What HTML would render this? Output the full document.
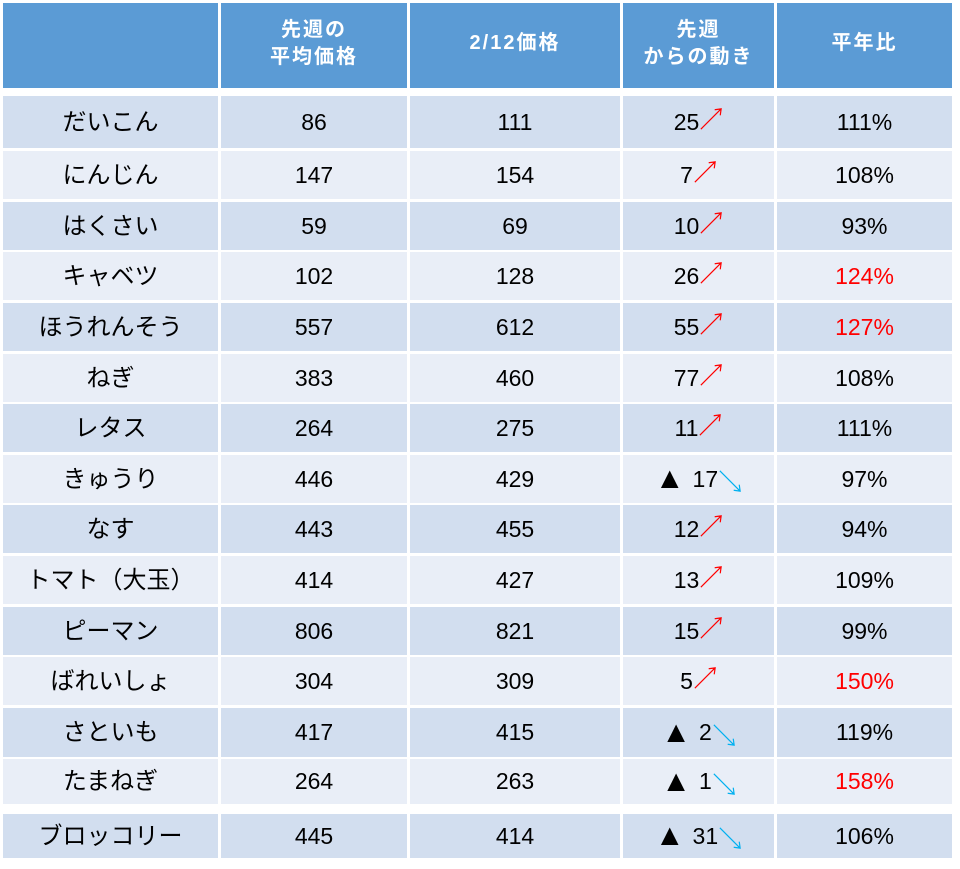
<!DOCTYPE html>
<html><head><meta charset="utf-8">
<style>
*{margin:0;padding:0;box-sizing:border-box}
body{width:960px;height:869px;background:#fff;position:relative;overflow:hidden;font-family:"Liberation Sans","Noto Sans CJK JP",sans-serif}
.r{position:absolute;left:0;width:960px}
.c{position:absolute;top:0;height:100%;display:flex;align-items:center;justify-content:center;font-size:23px;color:#000;white-space:nowrap}
.c1{left:3px;width:215px;font-size:24px;padding-bottom:6px}
.c2{left:221px;width:186px}
.c3{left:410px;width:210px}
.c4{left:623px;width:151px}
.c5{left:777px;width:175px}
.h .c{background:#5B9BD5;color:#fff;font-weight:bold;font-size:20px;line-height:27px;text-align:center;letter-spacing:2px;padding-bottom:4px}
.d .c{background:#D2DEEF}
.l .c{background:#E9EEF7}
.red{color:#f00}
svg{display:inline-block;vertical-align:middle;margin-top:-6px}
.dn{margin-top:4px}
.tri{font-size:30px;margin-right:8px}
</style></head><body>
<div class="r h" style="top:3px;height:85px">
<div class="c c1"></div>
<div class="c c2">先週の<br>平均価格</div>
<div class="c c3">2/12価格</div>
<div class="c c4">先週<br>からの動き</div>
<div class="c c5">平年比</div>
</div>

<div class="r d" style="top:96px;height:52px"><div class="c c1">だいこん</div><div class="c c2">86</div><div class="c c3">111</div><div class="c c4">25<svg width="24" height="24" viewBox="0 0 26 26"><path d="M2 24L24 2M17 3L24 2L23 9" stroke="#f00" stroke-width="1.3" fill="none"/></svg></div><div class="c c5">111%</div></div>
<div class="r l" style="top:151px;height:48px"><div class="c c1">にんじん</div><div class="c c2">147</div><div class="c c3">154</div><div class="c c4">7<svg width="24" height="24" viewBox="0 0 26 26"><path d="M2 24L24 2M17 3L24 2L23 9" stroke="#f00" stroke-width="1.3" fill="none"/></svg></div><div class="c c5">108%</div></div>
<div class="r d" style="top:202px;height:48px"><div class="c c1">はくさい</div><div class="c c2">59</div><div class="c c3">69</div><div class="c c4">10<svg width="24" height="24" viewBox="0 0 26 26"><path d="M2 24L24 2M17 3L24 2L23 9" stroke="#f00" stroke-width="1.3" fill="none"/></svg></div><div class="c c5">93%</div></div>
<div class="r l" style="top:252px;height:48px"><div class="c c1">キャベツ</div><div class="c c2">102</div><div class="c c3">128</div><div class="c c4">26<svg width="24" height="24" viewBox="0 0 26 26"><path d="M2 24L24 2M17 3L24 2L23 9" stroke="#f00" stroke-width="1.3" fill="none"/></svg></div><div class="c c5 red">124%</div></div>
<div class="r d" style="top:303px;height:48px"><div class="c c1">ほうれんそう</div><div class="c c2">557</div><div class="c c3">612</div><div class="c c4">55<svg width="24" height="24" viewBox="0 0 26 26"><path d="M2 24L24 2M17 3L24 2L23 9" stroke="#f00" stroke-width="1.3" fill="none"/></svg></div><div class="c c5 red">127%</div></div>
<div class="r l" style="top:354px;height:48px"><div class="c c1">ねぎ</div><div class="c c2">383</div><div class="c c3">460</div><div class="c c4">77<svg width="24" height="24" viewBox="0 0 26 26"><path d="M2 24L24 2M17 3L24 2L23 9" stroke="#f00" stroke-width="1.3" fill="none"/></svg></div><div class="c c5">108%</div></div>
<div class="r d" style="top:404px;height:48px"><div class="c c1">レタス</div><div class="c c2">264</div><div class="c c3">275</div><div class="c c4">11<svg width="24" height="24" viewBox="0 0 26 26"><path d="M2 24L24 2M17 3L24 2L23 9" stroke="#f00" stroke-width="1.3" fill="none"/></svg></div><div class="c c5">111%</div></div>
<div class="r l" style="top:455px;height:48px"><div class="c c1">きゅうり</div><div class="c c2">446</div><div class="c c3">429</div><div class="c c4"><span class="tri">▲</span>17<svg class="dn" width="24" height="24" viewBox="0 0 26 26"><path d="M2 2L24 24M17 23L24 24L23 17" stroke="#00B0F0" stroke-width="1.3" fill="none"/></svg></div><div class="c c5">97%</div></div>
<div class="r d" style="top:505px;height:48px"><div class="c c1">なす</div><div class="c c2">443</div><div class="c c3">455</div><div class="c c4">12<svg width="24" height="24" viewBox="0 0 26 26"><path d="M2 24L24 2M17 3L24 2L23 9" stroke="#f00" stroke-width="1.3" fill="none"/></svg></div><div class="c c5">94%</div></div>
<div class="r l" style="top:556px;height:48px"><div class="c c1">トマト（大玉）</div><div class="c c2">414</div><div class="c c3">427</div><div class="c c4">13<svg width="24" height="24" viewBox="0 0 26 26"><path d="M2 24L24 2M17 3L24 2L23 9" stroke="#f00" stroke-width="1.3" fill="none"/></svg></div><div class="c c5">109%</div></div>
<div class="r d" style="top:607px;height:48px"><div class="c c1">ピーマン</div><div class="c c2">806</div><div class="c c3">821</div><div class="c c4">15<svg width="24" height="24" viewBox="0 0 26 26"><path d="M2 24L24 2M17 3L24 2L23 9" stroke="#f00" stroke-width="1.3" fill="none"/></svg></div><div class="c c5">99%</div></div>
<div class="r l" style="top:657px;height:48px"><div class="c c1">ばれいしょ</div><div class="c c2">304</div><div class="c c3">309</div><div class="c c4">5<svg width="24" height="24" viewBox="0 0 26 26"><path d="M2 24L24 2M17 3L24 2L23 9" stroke="#f00" stroke-width="1.3" fill="none"/></svg></div><div class="c c5 red">150%</div></div>
<div class="r d" style="top:708px;height:49px"><div class="c c1">さといも</div><div class="c c2">417</div><div class="c c3">415</div><div class="c c4"><span class="tri">▲</span>2<svg class="dn" width="24" height="24" viewBox="0 0 26 26"><path d="M2 2L24 24M17 23L24 24L23 17" stroke="#00B0F0" stroke-width="1.3" fill="none"/></svg></div><div class="c c5">119%</div></div>
<div class="r l" style="top:759px;height:45px"><div class="c c1">たまねぎ</div><div class="c c2">264</div><div class="c c3">263</div><div class="c c4"><span class="tri">▲</span>1<svg class="dn" width="24" height="24" viewBox="0 0 26 26"><path d="M2 2L24 24M17 23L24 24L23 17" stroke="#00B0F0" stroke-width="1.3" fill="none"/></svg></div><div class="c c5 red">158%</div></div>
<div class="r d" style="top:814px;height:44px"><div class="c c1">ブロッコリー</div><div class="c c2">445</div><div class="c c3">414</div><div class="c c4"><span class="tri">▲</span>31<svg class="dn" width="24" height="24" viewBox="0 0 26 26"><path d="M2 2L24 24M17 23L24 24L23 17" stroke="#00B0F0" stroke-width="1.3" fill="none"/></svg></div><div class="c c5">106%</div></div>
</body></html>
